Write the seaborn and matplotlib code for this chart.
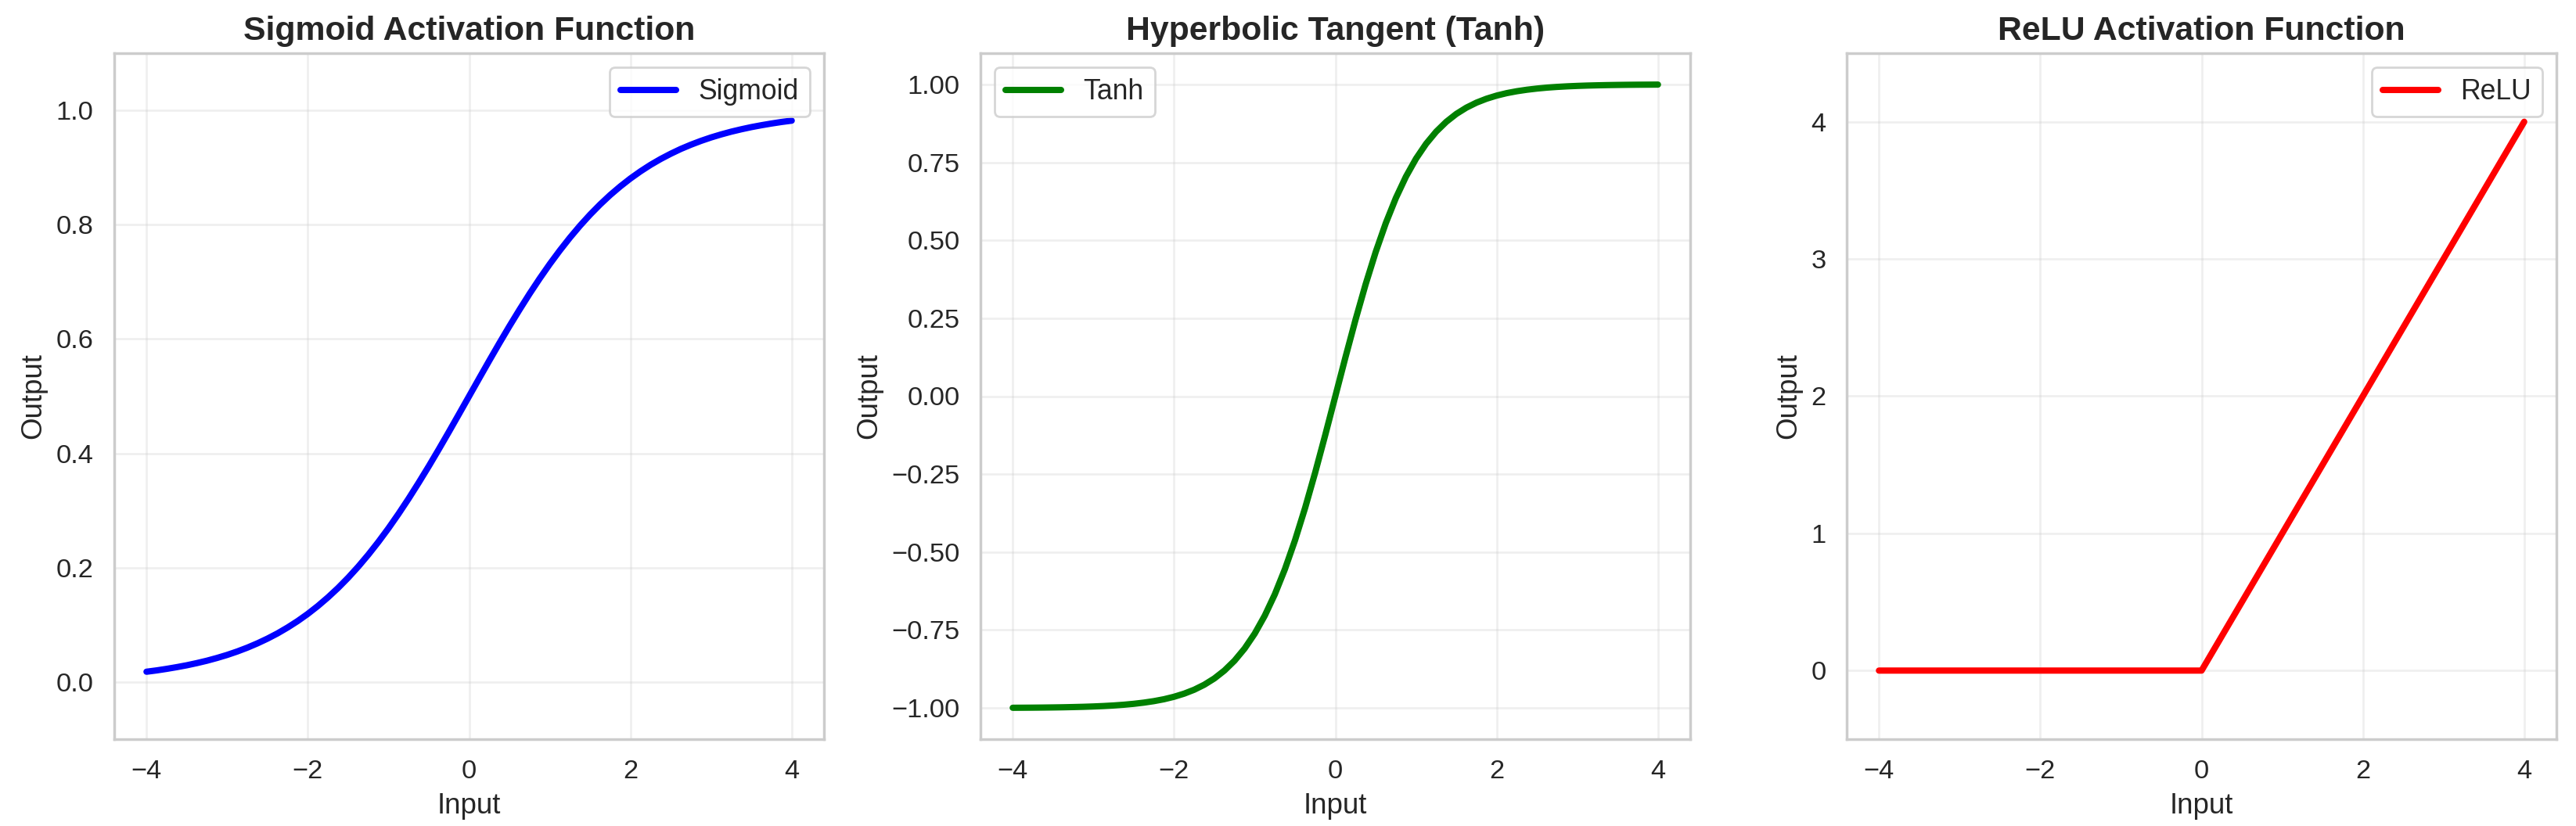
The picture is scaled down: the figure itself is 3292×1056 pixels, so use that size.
import numpy as np
import pandas as pd
import matplotlib
matplotlib.use("Agg")
import matplotlib.pyplot as plt
import seaborn as sns

# ---- data ----
x_input = [-4.0, -3.875, -3.75, -3.625, -3.5, -3.375, -3.25, -3.125,
           -3.0, -2.875, -2.75, -2.625, -2.5, -2.375, -2.25, -2.125,
           -2.0, -1.875, -1.75, -1.625, -1.5, -1.375, -1.25, -1.125,
           -1.0, -0.875, -0.75, -0.625, -0.5, -0.375, -0.25, -0.125,
           0.0, 0.125, 0.25, 0.375, 0.5, 0.625, 0.75, 0.875,
           1.0, 1.125, 1.25, 1.375, 1.5, 1.625, 1.75, 1.875,
           2.0, 2.125, 2.25, 2.375, 2.5, 2.625, 2.75, 2.875,
           3.0, 3.125, 3.25, 3.375, 3.5, 3.625, 3.75, 3.875, 4.0]
sigmoid_out = [0.0180, 0.0203, 0.0230, 0.0260, 0.0293, 0.0331, 0.0373, 0.0421,
               0.0474, 0.0534, 0.0601, 0.0676, 0.0759, 0.0851, 0.0954, 0.1067,
               0.1192, 0.1330, 0.1481, 0.1645, 0.1824, 0.2018, 0.2227, 0.2451,
               0.2689, 0.2942, 0.3208, 0.3487, 0.3775, 0.4073, 0.4378, 0.4688,
               0.5000, 0.5312, 0.5622, 0.5927, 0.6225, 0.6513, 0.6792, 0.7058,
               0.7311, 0.7549, 0.7773, 0.7982, 0.8176, 0.8355, 0.8520, 0.8670,
               0.8808, 0.8933, 0.9047, 0.9149, 0.9241, 0.9325, 0.9399, 0.9466,
               0.9526, 0.9579, 0.9627, 0.9669, 0.9707, 0.9740, 0.9770, 0.9797, 0.9820]
tanh_out = [-0.9993, -0.9991, -0.9989, -0.9986, -0.9982, -0.9977, -0.9970, -0.9962,
            -0.9951, -0.9937, -0.9919, -0.9896, -0.9866, -0.9828, -0.9780, -0.9719,
            -0.9640, -0.9540, -0.9414, -0.9254, -0.9052, -0.8798, -0.8483, -0.8093,
            -0.7616, -0.7039, -0.6352, -0.5546, -0.4621, -0.3584, -0.2449, -0.1244,
            0.0000, 0.1244, 0.2449, 0.3584, 0.4621, 0.5546, 0.6352, 0.7039,
            0.7616, 0.8093, 0.8483, 0.8798, 0.9052, 0.9254, 0.9414, 0.9540,
            0.9640, 0.9719, 0.9780, 0.9828, 0.9866, 0.9896, 0.9919, 0.9937,
            0.9951, 0.9962, 0.9970, 0.9977, 0.9982, 0.9986, 0.9989, 0.9991, 0.9993]
relu_x = [-4.0, 0.0, 4.0]
relu_out = [0.0, 0.0, 4.0]

titles = ["Sigmoid Activation Function", "Hyperbolic Tangent (Tanh)", "ReLU Activation Function"]
series_names = ["Sigmoid", "Tanh", "ReLU"]
colors = ["blue", "green", "red"]
legend_locs = ["upper right", "upper left", "upper right"]

smooth_df = pd.DataFrame({"x": x_input, "Sigmoid": sigmoid_out, "Tanh": tanh_out})
relu_df = pd.DataFrame({"x": relu_x, "ReLU": relu_out})
frames = [smooth_df, smooth_df, relu_df]

sns.set_theme(style="whitegrid", context="notebook", font_scale=1.2)
plt.rcParams["font.family"] = ["Liberation Sans", "DejaVu Sans"]
plt.rcParams["axes.edgecolor"] = "#cccccc"
plt.rcParams["axes.linewidth"] = 1.25

W, H = 3292, 1056
fig = plt.figure(figsize=(W / 200, H / 200), dpi=200)
lefts = [146, 1253, 2360]
ax_w = 907
top_px, bot_px = 68, 945
ylims = [(-0.1, 1.1), (-1.1, 1.1), (-0.5, 4.5)]

for i, name in enumerate(series_names):
    ax = fig.add_axes((lefts[i] / W, 1 - bot_px / H, ax_w / W, (bot_px - top_px) / H))
    sns.lineplot(data=frames[i], x="x", y=name, ax=ax, color=colors[i], linewidth=2.9, label=name)
    ax.set_title(titles[i], fontsize=15.4, fontweight="bold", color="#262626")
    ax.set_xlabel("Input", fontsize=13.2, color="#262626")
    ax.set_ylabel("Output", fontsize=13.2, color="#262626")
    ax.tick_params(labelsize=12.4, colors="#262626")
    ax.set_ylim(*ylims[i])
    ax.set_xlim(-4.4, 4.4)
    ax.set_xticks([-4, -2, 0, 2, 4])
    ax.grid(True, alpha=0.3)
    ax.legend(loc=legend_locs[i], fontsize=12.8)

fig.savefig("out.png", dpi=200)
